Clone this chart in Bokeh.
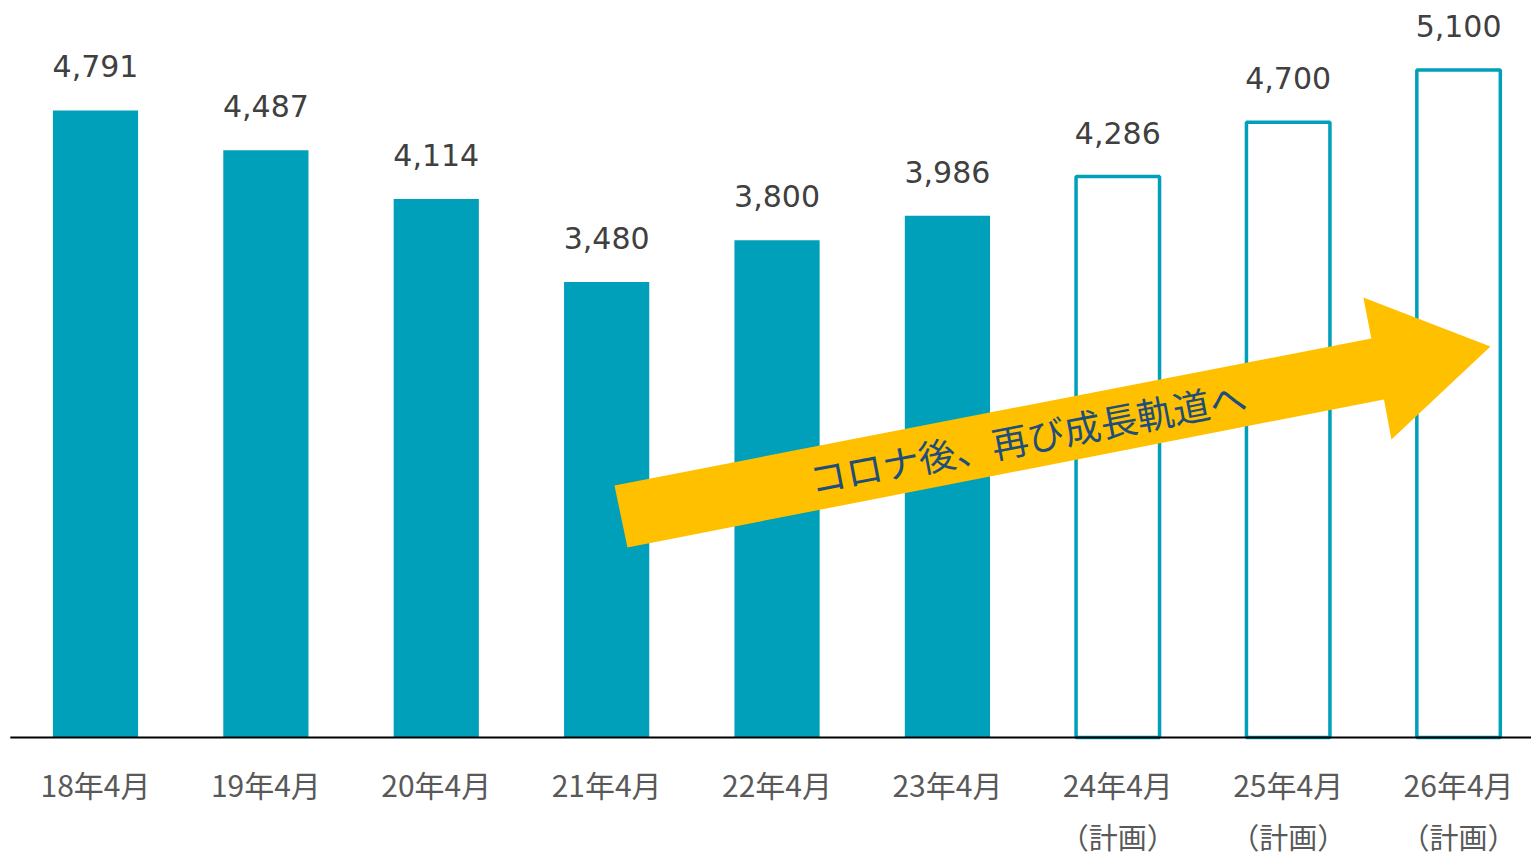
from bokeh.plotting import figure
from bokeh.models import ColumnDataSource, Range1d
from bokeh.core.properties import value
from bokeh.embed import file_html
from bokeh.resources import INLINE

# ---- data ----
categories = ["18年4月", "19年4月", "20年4月", "21年4月", "22年4月", "23年4月", "24年4月", "25年4月", "26年4月"]
sub_labels = ["", "", "", "", "", "", "（計画）", "（計画）", "（計画）"]
values = [4791, 4487, 4114, 3480, 3800, 3986, 4286, 4700, 5100]
is_plan = [False, False, False, False, False, False, True, True, True]

arrow_text = "コロナ後、再び成長軌道へ"
# arrow outline in data units (x: category index, y: value)
arrow_x = [3.046, 7.488, 7.441, 8.187, 7.606, 7.562, 3.122]
arrow_y = [1925, 3049, 3362, 2988, 2277, 2583, 1452]
arrow_text_pos = (5.47, 2300)

TEAL = "#009fba"

xs = list(range(len(categories)))
labels = [f"{v:,}" for v in values]

act = ColumnDataSource(dict(x=[x for x, f in zip(xs, is_plan) if not f],
                            top=[v for v, f in zip(values, is_plan) if not f]))
plan = ColumnDataSource(dict(x=[x for x, f in zip(xs, is_plan) if f],
                             top=[v for v, f in zip(values, is_plan) if f]))
lab = ColumnDataSource(dict(x=xs, y=values, t=labels))
cat = ColumnDataSource(dict(x=xs, y=[-352] * len(xs), t=categories))
sub = ColumnDataSource(dict(x=xs, y=[-756] * len(xs), t=sub_labels))

p = figure(width=1531, height=857, output_backend="svg", toolbar_location=None,
           x_range=Range1d(-0.5575, 8.428), y_range=Range1d(-917, 5631),
           min_border=0, min_border_left=0, min_border_right=0,
           min_border_top=0, min_border_bottom=0)
p.axis.visible = False
p.grid.visible = False
p.outline_line_color = None
p.background_fill_color = "white"
p.border_fill_color = "white"

p.vbar(x="x", top="top", bottom=0, width=0.5, source=act,
       fill_color=TEAL, line_color=None)
p.vbar(x="x", top="top", bottom=0, width=0.49, source=plan,
       fill_color="white", line_color=TEAL, line_width=3.5)

# baseline
p.segment(x0=[-0.5], y0=[0], x1=[8.428], y1=[0], line_color="black", line_width=2)

# arrow
p.patch(x=arrow_x, y=arrow_y, fill_color="#ffc000", line_color=None)
p.text(x=[arrow_text_pos[0]], y=[arrow_text_pos[1]], text=[arrow_text],
       angle=0.1901, text_align="center", text_baseline="middle",
       text_font=value("Noto Sans CJK JP"), text_font_size="37px",
       text_color="#1f4e79")

# value labels
p.text(x="x", y="y", text="t", source=lab, y_offset=-44,
       text_align="center", text_baseline="alphabetic",
       text_font=value("DejaVu Sans"), text_font_size="30px", text_color="#404040")

# category labels
p.text(x="x", y="y", text="t", source=cat, text_align="center", text_baseline="middle",
       text_font=value("Noto Sans CJK JP"), text_font_size="30px", text_color="#595959")
p.text(x="x", y="y", text="t", source=sub, text_align="center", text_baseline="middle",
       text_font=value("Noto Sans CJK JP"), text_font_size="29px", text_color="#595959")

open("out.html", "w").write(file_html(p, INLINE))
